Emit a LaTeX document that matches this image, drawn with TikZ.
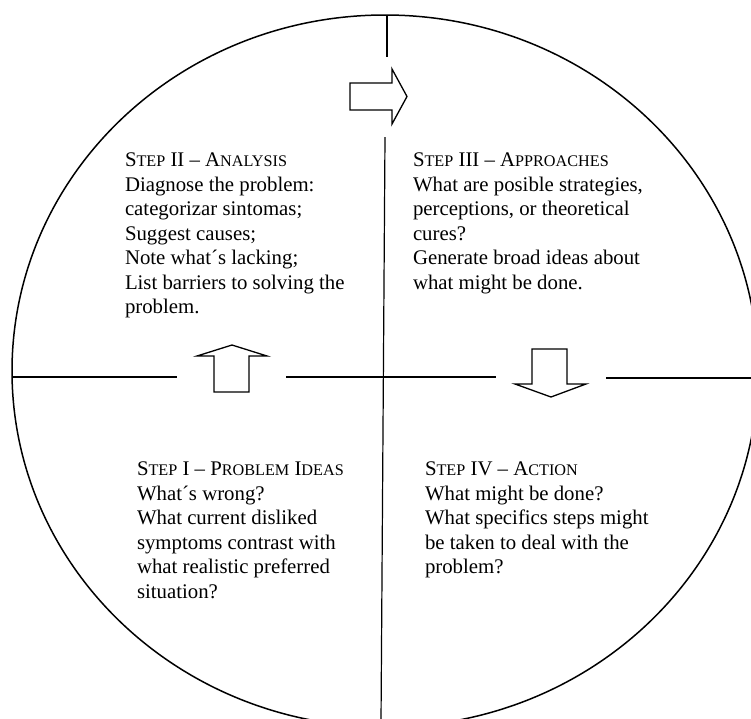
\documentclass[tikz,border=0pt]{standalone}
\usepackage{fontspec}
\setmainfont{Liberation Serif}
\newcommand\smc[1]{{\fontsize{16.2}{24.5}\selectfont #1}}
\begin{document}
\begin{tikzpicture}[x=1pt,y=-1pt,
  rim/.style={line width=1.5pt},
  divider/.style={line width=1.2pt},
  blockarrow/.style={line width=1.3pt, line join=miter},
  steptext/.style={anchor=north west, inner sep=0pt, outer sep=0pt, align=left,
    font=\fontsize{20.8}{24.5}\selectfont}]
\useasboundingbox (0,0) rectangle (751,718);
\clip (0,0) rectangle (751,718);
% outer circle
\draw[rim] (385,371) ellipse [x radius=373, y radius=356];
% vertical divider
\coordinate (vt1) at (387,15);
\coordinate (vt2) at (387,57);
\coordinate (vb1) at (385,137);
\coordinate (vb2) at (381,722);
\draw[divider] (vt1) -- (vt2);
\draw[divider] (vb1) -- (vb2);
% horizontal divider
\coordinate (h1) at (12,377);
\coordinate (h2) at (177,377);
\coordinate (h3) at (286,377);
\coordinate (h4) at (496,377);
\coordinate (h5) at (606,378);
\coordinate (h6) at (760,378);
\draw[divider] (h1) -- (h2);
\draw[divider] (h3) -- (h4);
\draw[divider] (h5) -- (h6);
% right arrow (top)
\draw[blockarrow] (350,83) -- (392,83) -- (392,69) -- (407,96.5) -- (392,124) -- (392,110) -- (350,110) -- cycle;
% up arrow (left)
\draw[blockarrow] (214,392) -- (214,356) -- (197,356) -- (232,345) -- (267,356) -- (249,356) -- (249,392) -- cycle;
% down arrow (right)
\draw[blockarrow] (532,349) -- (567,349) -- (567,384) -- (586,384) -- (551,397) -- (515,384) -- (532,384) -- cycle;
% texts
\node[steptext] (s2) at (125,153) {S\smc{TEP} II -- A\smc{NALYSIS}\\Diagnose the problem:\\categorizar sintomas;\\Suggest causes;\\Note what´s lacking;\\List barriers to solving the\\problem.};
\node[steptext] (s3) at (413,153) {S\smc{TEP} III -- A\smc{PPROACHES}\\What are posible strategies,\\perceptions, or theoretical\\cures?\\Generate broad ideas about\\what might be done.};
\node[steptext] (s1) at (137,462) {S\smc{TEP} I -- P\smc{ROBLEM} I\smc{DEAS}\\What´s wrong?\\What current disliked\\symptoms contrast with\\what realistic preferred\\situation?};
\node[steptext] (s4) at (425,462) {S\smc{TEP} IV -- A\smc{CTION}\\What might be done?\\What specifics steps might\\be taken to deal with the\\problem?};
\end{tikzpicture}
\end{document}
